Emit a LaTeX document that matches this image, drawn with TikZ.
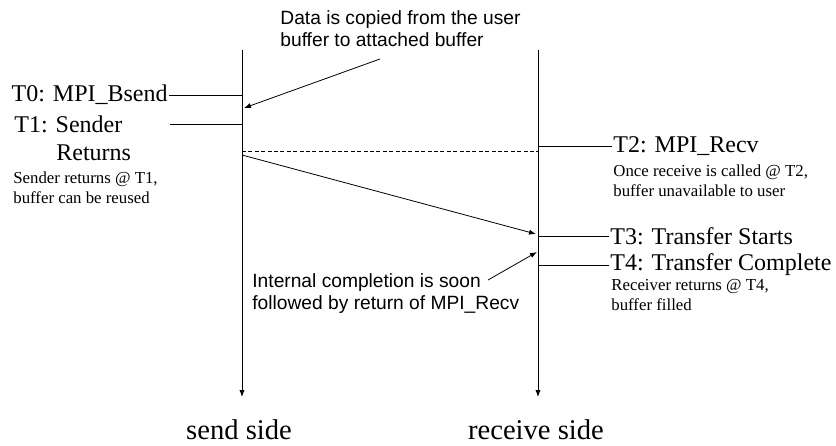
\documentclass[tikz,border=0pt]{standalone}
\usepackage{fontspec}
\setmainfont{Liberation Serif}
\newfontfamily\arialfont{Liberation Sans}
\usepackage{tikz}
\usetikzlibrary{arrows.meta, positioning, calc}

\begin{document}
\begin{tikzpicture}[x=0.5pt, y=-0.5pt, >={Latex[length=3.5pt,width=2.6pt]},
        event/.style={inner sep=0.5pt, font=\fontsize{12}{14}\selectfont},
        note/.style={inner sep=0pt, align=left, font=\fontsize{8.4}{9.9}\selectfont},
        remark/.style={inner sep=0pt, align=left, font=\arialfont\fontsize{9.6}{11}\selectfont},
        sidename/.style={inner sep=0pt, font=\fontsize{14.3}{16}\selectfont}]
                \useasboundingbox (0,0) rectangle (836,445);
                % life lines
                \coordinate (s_top) at (242,50);
                \coordinate (s_bot) at (242,397);
                \coordinate (r_top) at (538,50);
                \coordinate (r_bot) at (538,397);
                \draw[->] (s_top) -- (s_bot);
                \draw[->] (r_top) -- (r_bot);
                \node[sidename] (send) at (239,430) {send side};
                \node[sidename] (recv) at (536,430) {receive side};
                % send side
                \node[event, anchor=east] (t_0) at (169,95) {T0: MPI\_Bsend};
                \node[event, anchor=west] (t_1) at (13,124) {T1: Sender};
                \node[event, anchor=west] (t_1r) at (55,153) {Returns};
                \coordinate (t_1e) at (170,124);
                \node[note, anchor=west] (n_1) at (13,188) {Sender returns @ T1,\\buffer can be reused};
                \draw (t_0.east) -- (t_0.east -| s_top);
                \draw (t_1e) -- (t_1e -| s_top);
                % receive side
                \node[event, anchor=west] (t_2) at (612,146) {T2: MPI\_Recv};
                \node[note, anchor=west] (n_2) at (613,181) {Once receive is called @ T2,\\buffer unavailable to user};
                \node[event, anchor=west] (t_3) at (609,236) {T3: Transfer Starts};
                \node[event, anchor=west] (t_4) at (609,265) {T4: Transfer Complete};
                \node[note, anchor=west] (n_4) at (611,295) {Receiver returns @ T4,\\buffer filled};
                \draw (t_2.west) -- (t_2.west -| r_top);
                \draw (t_3.west) -- (t_3.west -| r_top);
                \draw (t_4.west) -- (t_4.west -| r_top);
                % messages
                \coordinate (c_dash) at (242,151);
                \draw[dash pattern=on 2pt off 1.2pt] (c_dash) -- (c_dash -| r_top);
                \coordinate (c_out) at (242,155);
                \coordinate (c_in) at (536,234);
                \draw[->] (c_out) -- (c_in);
                % remarks
                \node[remark, anchor=west] (copy) at (280,29) {Data is copied from the user\\buffer to attached buffer};
                \coordinate (copy_tail) at (380,59);
                \coordinate (copy_tip) at (244,108);
                \draw[->] (copy_tail) -- (copy_tip);
                \node[remark, anchor=west] (done) at (252,294) {Internal completion is soon\\followed by return of MPI\_Recv};
                \coordinate (done_tail) at (488,280);
                \coordinate (done_tip) at (537,252);
                \draw[->] (done_tail) -- (done_tip);
        \end{tikzpicture}
\end{document}
